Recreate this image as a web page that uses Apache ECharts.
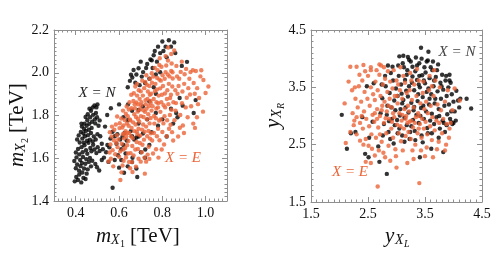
<!DOCTYPE html>
<html><head><meta charset="utf-8">
<script src="https://cdn.jsdelivr.net/npm/echarts@6/dist/echarts.min.js"></script>
<style>html,body{margin:0;padding:0;background:#fff}#c{width:497px;height:262px}</style>
</head><body><div id="c"></div>
<script>
// ---------- data ----------
const leftXTicks = [0.4, 0.6, 0.8, 1.0];
const leftYTicks = [1.4, 1.6, 1.8, 2.0, 2.2];
const rightTicks = [1.5, 2.5, 3.5, 4.5];

// left panel, X = N (black): [m_X1, m_X2]
const leftN = [
[0.396,1.492],[0.403,1.512],[0.411,1.498],[0.417,1.524],[0.426,1.487],[0.431,1.533],[0.436,1.508],[0.446,1.503],[0.451,1.528],[0.401,1.553],[0.407,1.571],[0.416,1.542],[0.423,1.563],[0.429,1.578],[0.439,1.552],[0.445,1.574],[0.456,1.548],[0.461,1.583],[0.471,1.562],[0.394,1.587],[0.404,1.604],[0.421,1.592],[0.434,1.606],[0.449,1.596],[0.466,1.601],[0.477,1.588],[0.491,1.573],[0.499,1.558],[0.509,1.543],
[0.401,1.627],[0.411,1.643],[0.417,1.618],[0.427,1.652],[0.432,1.628],[0.441,1.661],[0.448,1.638],[0.454,1.621],[0.459,1.672],[0.468,1.648],[0.473,1.633],[0.481,1.663],[0.487,1.641],[0.496,1.624],[0.502,1.652],[0.511,1.634],[0.419,1.674],[0.431,1.692],[0.438,1.673],[0.443,1.703],[0.453,1.682],[0.457,1.708],[0.466,1.687],[0.471,1.718],[0.479,1.679],[0.484,1.702],[0.493,1.688],[0.501,1.712],[0.407,1.688],[0.414,1.707],[0.424,1.723],[0.436,1.716],[0.447,1.728],[0.461,1.733],[0.474,1.742],[0.521,1.668],[0.526,1.642],[0.514,1.703],
[0.429,1.748],[0.441,1.762],[0.451,1.752],[0.454,1.778],[0.463,1.761],[0.467,1.792],[0.476,1.771],[0.481,1.803],[0.489,1.782],[0.494,1.812],[0.471,1.822],[0.479,1.838],[0.487,1.847],[0.496,1.838],[0.501,1.852],[0.446,1.793],[0.456,1.806],[0.464,1.832],[0.491,1.763],[0.499,1.792],[0.506,1.752],[0.511,1.777],[0.439,1.737],[0.427,1.762],
[0.531,1.603],[0.541,1.628],[0.547,1.662],[0.556,1.651],[0.561,1.692],[0.571,1.724],[0.563,1.834],[0.546,1.802],[0.536,1.748],[0.581,1.703],[0.589,1.668],[0.601,1.852],[0.593,1.712],[0.606,1.688],[0.617,1.702],[0.621,1.662],[0.611,1.642],[0.626,1.718],[0.636,1.683],[0.641,1.778],[0.655,1.727],[0.661,1.703],[0.671,1.688],[0.681,1.697],[0.691,1.702],[0.663,1.602],[0.685,1.512],[0.601,1.556],[0.624,1.532],[0.571,1.462],[0.641,1.562],[0.581,1.592],[0.552,1.583],[0.521,1.592],[0.596,1.614],[0.631,1.622],[0.711,1.716],[0.741,1.662],[0.722,1.641],[0.702,1.628],
[0.641,1.932],[0.651,1.962],[0.656,1.991],[0.662,1.978],[0.668,2.013],[0.676,1.953],[0.681,1.992],[0.691,2.021],[0.696,1.942],[0.701,2.052],[0.706,1.982],[0.712,2.003],[0.721,1.952],[0.726,2.022],[0.731,2.041],[0.741,1.972],[0.746,2.062],[0.752,2.058],[0.756,2.022],[0.761,2.082],[0.766,2.102],[0.776,2.052],[0.781,2.122],[0.791,2.092],[0.801,2.146],[0.806,2.102],[0.816,2.122],[0.821,2.072],[0.831,2.152],[0.841,2.122],[0.856,2.142],[0.861,2.092],[0.791,2.002],[0.771,1.992],[0.915,2.051],[0.891,2.032],[0.691,1.826],[0.642,1.852],[0.741,1.866],[0.771,1.902],[0.761,1.932],
[0.841,1.832],[0.865,1.812],[0.871,1.792],[0.895,1.846],[0.946,1.812],[0.955,1.872],[0.771,1.812],[0.781,1.752],[0.801,1.782],[0.821,1.702],[0.851,1.762],[0.881,1.882],[0.751,1.722],[0.731,1.782],[0.711,1.842],[0.691,1.762],[0.661,1.822],[0.621,1.792],[0.681,1.552],[0.661,1.582],[0.721,1.602],[0.611,1.592]
];

// left panel, X = E (orange)
const leftE = [
[0.552,1.585],[0.557,1.627],[0.561,1.664],[0.566,1.702],[0.571,1.638],[0.577,1.684],[0.579,1.733],[0.586,1.758],[0.591,1.708],[0.594,1.652],[0.558,1.722],[0.568,1.748],[0.583,1.619],[0.592,1.795],[0.597,1.688],[0.603,1.741],[0.601,1.607],[0.574,1.562],[0.563,1.598],[0.588,1.671],
[0.607,1.498],[0.612,1.534],[0.617,1.566],[0.622,1.588],[0.606,1.632],[0.613,1.668],[0.618,1.713],[0.621,1.754],[0.627,1.779],[0.632,1.808],[0.636,1.842],[0.624,1.693],[0.631,1.727],[0.637,1.763],[0.641,1.797],[0.646,1.828],[0.639,1.718],[0.644,1.681],[0.629,1.648],[0.642,1.622],[0.647,1.583],[0.652,1.553],[0.619,1.823],[0.611,1.786],[0.616,1.744],[0.626,1.716],[0.634,1.702],[0.645,1.752],[0.651,1.781],[0.649,1.862],[0.604,1.764],[0.621,1.641],[0.633,1.604],[0.638,1.661],[0.648,1.718],
[0.656,1.703],[0.659,1.742],[0.666,1.768],[0.671,1.806],[0.674,1.834],[0.681,1.861],[0.684,1.893],[0.692,1.918],[0.654,1.624],[0.662,1.657],[0.664,1.694],[0.672,1.727],[0.677,1.758],[0.679,1.793],[0.687,1.818],[0.689,1.852],[0.696,1.878],[0.701,1.913],[0.661,1.582],[0.668,1.613],[0.676,1.641],[0.682,1.676],[0.686,1.712],[0.691,1.738],[0.694,1.772],[0.702,1.797],[0.658,1.834],[0.667,1.868],[0.669,1.904],[0.676,1.936],[0.683,1.724],[0.688,1.643],[0.697,1.671],[0.699,1.706],[0.703,1.847],[0.653,1.777],[0.673,1.853],[0.688,1.784],[0.698,1.829],[0.663,1.536],[0.679,1.561],[0.691,1.598],[0.701,1.584],[0.657,1.897],[0.684,1.948],
[0.706,1.628],[0.709,1.663],[0.716,1.687],[0.719,1.724],[0.726,1.748],[0.729,1.782],[0.736,1.806],[0.739,1.843],[0.746,1.868],[0.749,1.902],[0.707,1.734],[0.712,1.758],[0.714,1.793],[0.721,1.817],[0.724,1.853],[0.732,1.878],[0.734,1.912],[0.741,1.938],[0.744,1.972],[0.752,1.998],[0.704,1.862],[0.711,1.893],[0.717,1.928],[0.722,1.957],[0.727,1.988],[0.731,1.703],[0.737,1.728],[0.742,1.763],[0.747,1.788],[0.751,1.823],[0.72,1.528],[0.726,1.584],[0.733,1.617],[0.738,1.654],[0.744,1.692],[0.748,1.717],[0.713,1.824],[0.723,1.872],[0.728,1.832],[0.743,1.897],[0.708,1.963],[0.718,1.603],[0.741,1.597],[0.747,1.858],[0.729,1.944],
[0.754,1.683],[0.762,1.718],[0.764,1.762],[0.771,1.787],[0.773,1.832],[0.782,1.858],[0.784,1.893],[0.791,1.927],[0.794,1.963],[0.802,1.988],[0.756,1.843],[0.761,1.877],[0.767,1.914],[0.769,1.948],[0.777,1.976],[0.779,2.012],[0.787,2.036],[0.789,2.068],[0.753,1.953],[0.766,2.023],[0.772,1.642],[0.776,1.703],[0.781,1.738],[0.786,1.776],[0.792,1.817],[0.796,1.862],[0.799,1.897],[0.758,1.622],[0.788,1.684],[0.801,1.723],[0.798,1.641],[0.783,1.603],[0.763,1.798],[0.774,1.862],[0.787,1.968],[0.797,2.028],[0.759,1.982],[0.776,1.922],[0.781,1.838],[0.793,1.782],
[0.806,1.763],[0.811,1.797],[0.814,1.838],[0.822,1.877],[0.824,1.918],[0.831,1.948],[0.834,1.983],[0.842,2.008],[0.844,2.043],[0.804,1.938],[0.812,1.972],[0.816,2.003],[0.819,2.034],[0.827,2.057],[0.816,2.078],[0.829,1.853],[0.836,1.802],[0.839,1.757],[0.846,1.722],[0.851,1.683],[0.809,1.664],[0.821,1.703],[0.832,1.738],[0.841,1.897],[0.847,1.936],[0.849,1.973],[0.852,1.862],[0.856,2.104],[0.813,1.903],[0.823,1.778],[0.837,1.882],[0.848,2.002],[0.807,1.848],[0.826,1.992],[0.843,1.827],[0.828,2.118],[0.842,2.088],
[0.857,1.778],[0.862,1.823],[0.864,1.858],[0.871,1.902],[0.876,1.938],[0.879,1.972],[0.886,2.004],[0.891,2.052],[0.861,1.918],[0.869,1.983],[0.882,1.743],[0.884,1.802],[0.892,1.857],[0.894,1.912],[0.902,1.948],[0.904,1.993],[0.911,2.018],[0.874,1.702],[0.896,1.753],[0.909,1.838],[0.914,1.883],[0.921,1.928],[0.866,2.032],[0.901,1.718],[0.918,1.792],
[0.926,1.972],[0.931,2.003],[0.942,2.012],[0.946,1.952],[0.951,1.902],[0.956,2.008],[0.962,1.928],[0.966,1.853],[0.977,1.983],[0.981,2.012],[0.991,1.966],[1.001,1.905],[1.014,1.936],[0.989,1.818],[0.971,1.882],[0.934,1.843],[0.944,1.762],[0.961,1.792],[0.929,1.898],[0.952,1.742]
];

// right panel, X = N (black): [y_XL, y_XR]
const rightN = [
[2.04,3.02],[2.13,2.43],[2.45,2.34],[2.51,2.28],[2.70,2.20],[2.83,1.99],[2.68,2.47],[3.41,2.28],[3.82,2.37],[3.61,2.43],[3.43,4.19],[3.56,4.12],[3.12,4.05],[3.20,4.03],[3.05,4.04],[4.31,3.13],[4.23,3.30],[4.08,3.27],[3.93,3.62],[3.96,2.89],[3.88,2.84],[2.20,2.70],[2.28,2.72],[2.40,2.98],[2.48,3.52],[2.60,3.57],[2.52,2.62],[2.58,2.90],
[2.72,3.05],[2.75,3.31],[2.78,2.86],[2.81,3.52],[2.84,3.18],[2.86,2.72],[2.88,3.40],[2.90,3.75],[2.92,2.95],[2.94,3.62],[2.96,3.27],[2.97,2.84],[2.99,3.48],[2.80,3.70],[2.85,3.88],[2.93,3.86],[2.98,3.10],[2.76,2.66],[2.89,2.60],[2.95,2.52],[2.74,3.55],[2.83,3.02],[2.91,3.15],[2.87,2.91],
[3.01,2.93],[3.02,3.35],[3.04,3.70],[3.05,2.78],[3.07,3.12],[3.08,3.55],[3.10,2.66],[3.11,3.92],[3.12,3.28],[3.14,2.97],[3.15,3.63],[3.17,3.44],[3.18,2.84],[3.19,3.80],[3.21,3.06],[3.22,3.52],[3.24,2.72],[3.25,3.95],[3.26,3.23],[3.28,3.69],[3.29,2.93],[3.03,3.88],[3.06,3.01],[3.09,3.39],[3.13,3.85],[3.16,3.15],[3.20,3.34],[3.23,2.60],[3.27,3.58],[3.30,3.10],[3.02,2.70],[3.14,2.55],[3.22,3.98],[3.18,3.72],[3.28,3.86],[3.10,3.22],[3.26,2.82],
[3.31,3.45],[3.32,2.74],[3.33,3.78],[3.35,3.02],[3.36,3.63],[3.37,3.26],[3.39,2.88],[3.40,3.92],[3.41,3.50],[3.43,3.14],[3.44,2.66],[3.45,3.71],[3.46,3.33],[3.48,2.95],[3.49,3.85],[3.50,3.57],[3.52,3.08],[3.53,3.42],[3.54,2.79],[3.55,3.97],[3.57,3.20],[3.58,3.66],[3.59,2.92],[3.34,4.02],[3.38,3.38],[3.42,3.00],[3.47,3.18],[3.51,3.76],[3.56,3.48],[3.33,2.58],[3.46,2.54],[3.40,3.70],[3.36,3.88],[3.53,3.95],[3.44,4.00],[3.58,3.30],[3.31,3.16],[3.48,3.62],[3.55,2.70],[3.39,3.55],
[3.61,3.38],[3.62,3.04],[3.63,3.80],[3.65,3.52],[3.66,2.86],[3.67,3.22],[3.69,3.68],[3.70,2.98],[3.72,3.43],[3.73,3.90],[3.74,3.12],[3.76,2.78],[3.77,3.58],[3.78,3.30],[3.80,3.72],[3.81,2.92],[3.82,3.46],[3.84,3.18],[3.85,2.72],[3.86,3.62],[3.88,3.35],[3.89,3.03],[3.64,3.95],[3.68,3.30],[3.71,3.80],[3.75,3.00],[3.79,3.52],[3.83,2.88],[3.87,3.70],[3.62,2.70],[3.74,2.62],[3.66,3.62],[3.60,3.85],
[3.91,3.50],[3.92,3.20],[3.94,2.95],[3.95,3.58],[3.97,3.38],[3.98,2.86],[4.00,3.25],[4.02,3.08],[4.04,2.92],[4.05,3.44],[4.10,3.15],[4.12,3.30],[3.93,3.72],[4.00,2.88],[3.96,3.08]
];

// right panel, X = E (orange)
const rightE = [
[2.67,1.77],[3.40,1.83],[2.19,3.86],[2.30,3.86],[2.42,3.89],[2.09,3.22],[2.11,2.53],[3.00,2.10],[2.89,2.22],[2.19,2.72],[2.25,2.84],[2.36,2.57],[2.57,2.43],[2.62,2.31],[2.80,2.28],[3.64,2.28],[3.85,2.40],[4.02,3.48],[4.11,3.27],[3.93,2.78],[2.70,3.90],[2.78,3.85],[2.55,3.80],[2.16,3.60],[2.22,3.45],[3.19,2.18],[3.30,2.25],[3.50,2.30],[2.46,2.20],[2.55,2.18],
[2.23,3.05],[2.26,2.92],[2.28,3.30],[2.30,2.68],[2.32,3.15],[2.34,3.52],[2.36,2.88],[2.38,3.25],[2.40,3.62],[2.41,2.78],[2.43,3.08],[2.44,3.42],[2.46,2.60],[2.47,2.95],[2.49,3.30],[2.50,3.70],[2.52,2.82],[2.53,3.18],[2.55,3.50],[2.56,2.68],[2.58,3.02],[2.59,3.38],[2.35,3.72],[2.45,3.78],[2.27,3.50],[2.42,2.50],[2.51,2.48],[2.39,3.00],[2.55,3.85],[2.30,2.98],
[2.61,2.90],[2.62,3.28],[2.63,3.60],[2.64,2.62],[2.66,3.12],[2.67,3.45],[2.68,2.80],[2.70,3.72],[2.71,3.00],[2.72,3.35],[2.74,2.55],[2.75,3.18],[2.76,3.55],[2.78,2.88],[2.79,3.25],[2.80,3.65],[2.82,2.70],[2.83,3.08],[2.84,3.42],[2.86,2.48],[2.87,2.95],[2.88,3.30],[2.89,3.60],[2.65,3.80],[2.73,3.88],[2.69,2.40],[2.77,2.36],[2.85,3.78],[2.62,3.05],[2.81,2.96],[2.74,3.10],[2.66,2.95],[2.86,3.18],[2.71,2.68],
[2.91,2.78],[2.92,3.15],[2.93,3.48],[2.94,2.62],[2.96,2.98],[2.97,3.35],[2.98,2.42],[3.00,3.62],[3.01,2.85],[3.02,3.22],[3.04,2.70],[3.05,3.05],[3.06,3.45],[3.08,2.56],[3.09,2.92],[3.10,3.30],[3.12,3.70],[3.13,2.78],[3.14,3.12],[3.16,2.65],[3.17,3.00],[3.18,3.40],[3.19,2.88],[2.95,3.80],[3.07,3.85],[2.99,2.30],[3.11,2.40],[3.03,3.55],[3.15,3.58],[2.94,3.05],[3.07,2.82],[3.20,3.18],[2.92,2.90],[3.10,3.02],[3.01,3.35],[3.16,2.95],
[3.21,2.72],[3.22,3.08],[3.23,3.45],[3.25,2.60],[3.26,2.92],[3.27,3.28],[3.29,2.80],[3.30,3.15],[3.31,3.55],[3.33,2.50],[3.34,2.98],[3.35,3.35],[3.37,2.70],[3.38,3.05],[3.39,3.62],[3.41,2.86],[3.42,3.22],[3.44,2.62],[3.45,2.95],[3.46,3.40],[3.48,2.78],[3.49,3.12],[3.24,3.75],[3.36,3.82],[3.28,2.40],[3.43,2.40],[3.32,2.88],[3.40,3.00],[3.47,3.60],[3.26,3.62],[3.39,2.78],[3.23,2.90],
[3.51,2.90],[3.52,3.25],[3.54,2.68],[3.55,3.05],[3.57,3.45],[3.59,2.82],[3.60,3.18],[3.62,2.58],[3.63,2.98],[3.65,3.35],[3.67,2.75],[3.68,3.62],[3.70,2.92],[3.72,3.20],[3.74,2.55],[3.75,2.88],[3.78,3.10],[3.80,2.70],[3.82,2.95],[3.85,3.25],[3.88,2.86],[3.90,3.45],[3.95,2.88],[3.92,2.62],[3.58,3.70],[3.66,3.80],[3.53,2.45],[3.71,2.42],[3.76,3.50],[3.98,3.10],[3.87,2.50],[3.62,3.52]
];

// ---------- styling ----------
const FONT = 'Liberation Serif';
const FRAME = '#8f8f8f';
const ORANGE = '#EC6437';
const BLACK = '#000000';
const DOT = 4.4;

function minorTicks(min, max, step, majors) {
  const out = [];
  for (let i = 0; ; i++) {
    const v = +(min + i * step).toFixed(5);
    if (v > max + 1e-9) break;
    if (!majors.some(m => Math.abs(m - v) < 1e-9)) out.push(v);
  }
  return out;
}

function axisPair(gridIndex, position, min, max, majors, minors, showLabel) {
  const base = { type: 'value', gridIndex, position, min, max, splitLine: { show: false }, axisPointer: { show: false } };
  const major = Object.assign({}, base, {
    axisLine: { show: true, onZero: false, lineStyle: { color: FRAME, width: 1 } },
    axisTick: { show: true, inside: true, length: 5, customValues: majors, lineStyle: { color: FRAME, width: 1 } },
    axisLabel: { show: showLabel, customValues: majors, margin: 5, fontFamily: FONT, fontSize: 14, color: '#111',
      formatter: v => (+v).toFixed(1) }
  });
  const minor = Object.assign({}, base, {
    axisLine: { show: false, onZero: false },
    axisTick: { show: true, inside: true, length: 2.5, customValues: minors, lineStyle: { color: FRAME, width: 1 } },
    axisLabel: { show: false }
  });
  return [major, minor];
}

const lxMin = 0.3, lxMax = 1.1, lyMin = 1.4, lyMax = 2.2, rMin = 1.5, rMax = 4.5;
const lxMinor = minorTicks(lxMin, lxMax, 0.02, leftXTicks);
const lyMinor = minorTicks(lyMin, lyMax, 0.02, leftYTicks);
const rMinor = minorTicks(rMin, rMax, 0.1, rightTicks);

const xAxes = [].concat(
  axisPair(0, 'bottom', lxMin, lxMax, leftXTicks, lxMinor, true),
  axisPair(0, 'top', lxMin, lxMax, leftXTicks, lxMinor, false),
  axisPair(1, 'bottom', rMin, rMax, rightTicks, rMinor, true),
  axisPair(1, 'top', rMin, rMax, rightTicks, rMinor, false)
);
const yAxes = [].concat(
  axisPair(0, 'left', lyMin, lyMax, leftYTicks, lyMinor, true),
  axisPair(0, 'right', lyMin, lyMax, leftYTicks, lyMinor, false),
  axisPair(1, 'left', rMin, rMax, rightTicks, rMinor, true),
  axisPair(1, 'right', rMin, rMax, rightTicks, rMinor, false)
);

function txt(t, x, y, size, italic, color, align) {
  return { type: 'text', x, y, silent: true,
    style: { text: t, font: (italic ? 'italic ' : '') + size + 'px "' + FONT + '"', fill: color || '#111',
      align: align || 'left', textAlign: align || 'left', verticalAlign: 'middle', textVerticalAlign: 'middle' } };
}
function title(x, y, rot, main, sub, subsub, unit) {
  const kids = [
    txt(main, 0, 0, 21, true),
    txt(sub, main === 'm' ? 15 : 10, 4, 14, true),
    txt(subsub, main === 'm' ? 24 : 19, 8, 10, subsub !== '1' && subsub !== '2')
  ];
  if (unit) kids.push(txt(unit, 34, 0, 21, false));
  return { type: 'group', x, y, rotation: rot, children: kids };
}

const chart = echarts.init(document.getElementById('c'), null, { renderer: 'canvas' });
chart.setOption({
  animation: false,
  backgroundColor: '#fff',
  grid: [
    { left: 54, top: 30, width: 173, height: 171, containLabel: false },
    { left: 311, top: 30, width: 171, height: 172, containLabel: false }
  ],
  xAxis: xAxes,
  yAxis: yAxes,
  series: [
    { type: 'scatter', xAxisIndex: 0, yAxisIndex: 0, data: leftN, symbolSize: DOT, itemStyle: { color: BLACK }, silent: true },
    { type: 'scatter', xAxisIndex: 0, yAxisIndex: 0, data: leftE, symbolSize: DOT, itemStyle: { color: ORANGE }, silent: true },
    { type: 'scatter', xAxisIndex: 4, yAxisIndex: 4, data: rightN, symbolSize: DOT, itemStyle: { color: BLACK }, silent: true },
    { type: 'scatter', xAxisIndex: 4, yAxisIndex: 4, data: rightE, symbolSize: DOT, itemStyle: { color: ORANGE }, silent: true }
  ],
  graphic: [
    title(96, 236, 0, 'm', 'X', '1', '[TeV]'),
    title(17, 167, Math.PI / 2, 'm', 'X', '2', '[TeV]'),
    title(385, 236, 0, 'y', 'X', 'L', null),
    title(273, 128, Math.PI / 2, 'y', 'X', 'R', null),
    txt('X = N', 97, 93, 15, true, '#222', 'center'),
    txt('X = E', 183, 158, 15, true, ORANGE, 'center'),
    txt('X = N', 457, 52, 15, true, '#444', 'center'),
    txt('X = E', 350, 172, 15, true, ORANGE, 'center')
  ]
});
</script>
</body></html>
